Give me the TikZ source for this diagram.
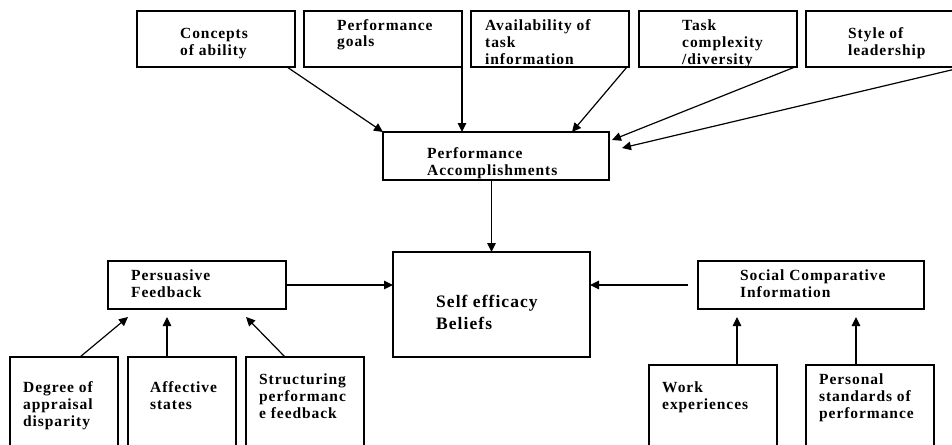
\documentclass[tikz,border=0pt]{standalone}
\usepackage{fontspec}
\setmainfont{Liberation Serif}[LetterSpace=6]
\usetikzlibrary{arrows.meta,calc}
\tikzset{
  box/.style={draw, line width=1.5pt, inner sep=0pt, outer sep=0pt},
  txt/.style={anchor=base west, align=left, inner sep=0pt, font=\fontsize{15.5}{17}\selectfont\bfseries},
  bigtxt/.style={anchor=base west, align=left, inner sep=0pt, font=\fontsize{17.5}{22}\selectfont\bfseries},
  arr/.style={line width=1.2pt, -{Triangle[length=9pt,width=8.5pt]}}
}
\begin{document}
\begin{tikzpicture}[x=1pt,y=-1pt]
\clip (0,0) rectangle (952,444);
\fill[white] (0,0) rectangle (952,444);
% top row
\node[box, minimum width=158, minimum height=56] (ca) at (216,39) {};
\node[box, minimum width=158, minimum height=56] (pg) at (383,39) {};
\node[box, minimum width=158, minimum height=56] (at) at (550,39) {};
\node[box, minimum width=158, minimum height=56] (tc) at (718,39) {};
\node[box, minimum width=158, minimum height=56] (sl) at (885,39) {};
\node[txt] (tca) at (180,56) {Concepts\\of ability};
\node[txt] (tpg) at (337,47) {Performance\\goals};
\node[txt] (tat) at (485,64) {Availability of\\task\\information};
\node[txt] (ttc) at (682,64) {Task\\complexity\\/diversity};
\node[txt] (tsl) at (848,56) {Style of\\leadership};
% performance accomplishments
\node[box, minimum width=226, minimum height=48] (pa) at (496,156) {};
\node[txt] (tpa) at (427,175) {Performance\\Accomplishments};
% self efficacy
\node[box, minimum width=197, minimum height=105] (se) at (491.5,304.5) {};
\node[bigtxt] (tse) at (436,329) {Self efficacy\\Beliefs};
% persuasive feedback
\node[box, minimum width=178, minimum height=48] (pf) at (197,285) {};
\node[txt] (tpf) at (131,297) {Persuasive\\Feedback};
% social comparative information
\node[box, minimum width=226, minimum height=48] (sci) at (811,285) {};
\node[txt] (tsci) at (740,297) {Social Comparative\\Information};
% bottom left
\node[box, minimum width=108, minimum height=113] (dg) at (64,413.5) {};
\node[box, minimum width=108, minimum height=113] (af) at (182,413.5) {};
\node[box, minimum width=118, minimum height=113] (st) at (305,413.5) {};
\node[txt] (tdg) at (23,426) {Degree of\\appraisal\\disparity};
\node[txt] (taf) at (150,409) {Affective\\states};
\node[txt] (tst) at (259,418) {Structuring\\performanc\\e feedback};
% bottom right
\node[box, minimum width=128, minimum height=105] (wk) at (713,417.5) {};
\node[box, minimum width=128, minimum height=105] (ps) at (870,417.5) {};
\node[txt] (twk) at (662,409) {Work\\experiences};
\node[txt] (tps) at (819,418) {Personal\\standards of\\performance};
% arrows into performance accomplishments
\draw[arr] ($(ca.south)+(71,0)$) -- (pa.north west);
\draw[arr] ($(pg.south east)+(0,-7)$) -- (pa.north -| pg.south east);
\draw[arr] ($(at.south east)+(-2,0)$) -- ($(pa.north east)+(-37,0)$);
\draw[arr] ($(tc.south east)+(-2,0)$) -- ($(pa.north east)+(3,8)$);
\draw[arr] (sl.south east) -- ($(pa.east)+(13,-8)$);
% into self efficacy
\draw[arr] (pa.south -| se.north) -- (se.north);
\draw[arr] (pf.east) -- (pf.east -| se.west);
\coordinate (scistart) at ($(sci.west)+(-10,0)$);
\draw[arr] (scistart) -- (scistart -| se.east);
% into persuasive feedback
\draw[arr] ($(dg.north)+(16,0)$) -- ($(pf.south west)+(20,8)$);
\draw[arr] ($(af.north)+(-15,0)$) -- ($(pf.south west)+(59,8)$);
\draw[arr] ($(st.north)+(-20,0)$) -- ($(pf.south west)+(138,8)$);
% into social comparative information
\draw[arr] ($(wk.north)+(24,0)$) -- ($(sci.south west)+(39,8)$);
\draw[arr] ($(ps.north)+(-14,0)$) -- ($(sci.south west)+(158,8)$);
\end{tikzpicture}
\end{document}
